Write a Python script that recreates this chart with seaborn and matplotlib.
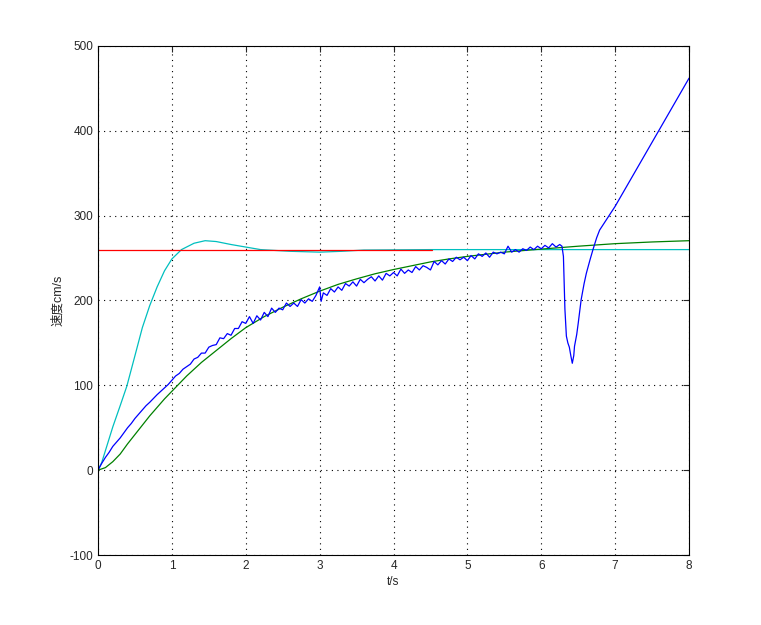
import matplotlib
matplotlib.use('Agg')
import matplotlib.pyplot as plt
import seaborn as sns

# reference (red)
red_t = [0, 4.52]
red_v = [260, 260]

# cyan response
cyan_t = [0, 0.05, 0.1, 0.2, 0.3, 0.39, 0.5, 0.6, 0.7, 0.8, 0.9, 1.0, 1.13, 1.3,
          1.45, 1.6, 1.8, 2.0, 2.2, 2.6, 3.0, 3.3, 3.6, 4.5, 6.0, 8.0]
cyan_v = [0, 9, 23, 51, 76, 99, 135, 168, 194, 216, 235, 249, 260, 267.5,
          270.5, 269.5, 266, 263, 260, 258, 257, 258, 259.5, 260, 260, 260]

# green model
green_t = [0, 0.1, 0.2, 0.3, 0.4, 0.5, 0.6, 0.7, 0.8, 0.9, 1.0, 1.2, 1.4, 1.6,
           1.8, 2.0, 2.25, 2.5, 2.75, 3.0, 3.25, 3.5, 3.75, 4.0, 4.25, 4.5,
           4.75, 5.0, 5.5, 6.0, 6.5, 7.0, 7.5, 8.0]
green_v = [0, 3, 10, 19, 31, 42, 53, 64, 74, 84, 93, 111, 127, 141,
           155, 168, 181, 192, 202, 211, 219, 225.5, 231.5, 236.5, 241, 245.5,
           249, 252, 257, 260.6, 264, 267, 269, 270.5]

# blue measured
blue_t = [0.00, 0.05, 0.10, 0.15, 0.20, 0.25, 0.30, 0.35, 0.40, 0.45,
          0.50, 0.55, 0.60, 0.65, 0.70, 0.75, 0.80, 0.85, 0.90, 0.95,
          1.00, 1.05, 1.10, 1.15, 1.20, 1.25, 1.30, 1.35, 1.40, 1.45,
          1.50, 1.55, 1.60, 1.65, 1.70, 1.75, 1.80, 1.85, 1.90, 1.95,
          2.00, 2.05, 2.10, 2.15, 2.20, 2.25, 2.30, 2.35, 2.40, 2.45,
          2.50, 2.55, 2.60, 2.65, 2.70, 2.75, 2.80, 2.85, 2.90, 2.95,
          3.00, 3.02, 3.05, 3.10, 3.15, 3.20, 3.25, 3.30, 3.35, 3.40,
          3.45, 3.50, 3.55, 3.60, 3.65, 3.70, 3.75, 3.80, 3.85, 3.90,
          3.95, 4.00, 4.05, 4.10, 4.15, 4.20, 4.25, 4.30, 4.35, 4.40,
          4.45, 4.50, 4.55, 4.60, 4.65, 4.70, 4.75, 4.80, 4.85, 4.90,
          4.95, 5.00, 5.05, 5.10, 5.15, 5.20, 5.25, 5.30, 5.35, 5.40,
          5.45, 5.50, 5.55, 5.60, 5.65, 5.70, 5.75, 5.80, 5.85, 5.90,
          5.95, 6.00, 6.05, 6.10, 6.15, 6.20, 6.25,
          6.28, 6.30, 6.32, 6.34, 6.36, 6.38, 6.40, 6.42, 6.44, 6.45,
          6.48, 6.50, 6.54, 6.58, 6.61, 6.66, 6.70, 6.75, 6.79, 6.85,
          7.00, 8.00]
blue_v = [0, 8, 15, 21, 28, 33, 38, 44, 50, 55,
          61, 66, 71, 76, 80, 84.5, 89, 93, 97, 101,
          106, 111, 114, 119, 122, 125, 131, 133, 138, 138,
          145, 147, 148, 156, 155, 161, 159, 167, 167, 175,
          173, 181, 173, 182, 177, 186, 181, 191, 186, 191,
          189, 197, 193, 197, 193, 201, 197, 202, 199, 206,
          216, 199, 209, 206, 214, 210, 216, 212, 220, 217,
          222, 217, 225, 221, 225, 228, 223, 229, 224, 232,
          229, 233, 229, 237, 232, 236, 233, 240, 236, 241,
          239, 236, 246, 242, 247, 243, 249, 246, 251, 248,
          251, 247, 253, 249, 255, 252, 256, 251, 257, 255,
          257, 255, 264, 257, 260, 257, 261, 259, 263, 260,
          264, 261, 265, 262, 267, 263, 266,
          264, 252, 190, 158, 150, 145, 135, 126, 135, 146,
          160, 173, 201, 220, 232, 248, 260, 274, 283, 291,
          311, 462]

sns.set_style('white')
plt.rcParams['font.family'] = ['Liberation Sans', 'Noto Sans CJK SC', 'DejaVu Sans']
plt.rcParams['axes.unicode_minus'] = False

fig = plt.figure(figsize=(7.61, 6.25), dpi=100)
ax = fig.add_axes([0.1288, 0.112, 0.7766, 0.8144])

sns.lineplot(x=cyan_t, y=cyan_v, color=(0, 0.75, 0.75), lw=0.9, estimator=None, ax=ax)
sns.lineplot(x=red_t, y=red_v, color=(1, 0, 0), lw=0.9, estimator=None, ax=ax)
sns.lineplot(x=green_t, y=green_v, color=(0, 0.5, 0), lw=0.9, estimator=None, ax=ax)
sns.lineplot(x=blue_t, y=blue_v, color=(0, 0, 1), lw=0.9, estimator=None, ax=ax)

ax.set_xlim(0, 8)
ax.set_ylim(-100, 500)
ax.set_xticks(range(0, 9))
ax.set_yticks(range(-100, 501, 100))
ax.grid(True, color='black', linestyle=(0, (1, 4)), linewidth=0.8)
ax.tick_params(direction='in', top=True, right=True, length=4, labelsize=8.5, width=0.8)
for s in ax.spines.values():
    s.set_color('black')
    s.set_linewidth(0.8)
ax.set_xlabel('t/s', fontsize=8.5, labelpad=3)
ax.set_ylabel('速度cm/s', fontsize=9, labelpad=4)

fig.savefig('out.png', dpi=100)
